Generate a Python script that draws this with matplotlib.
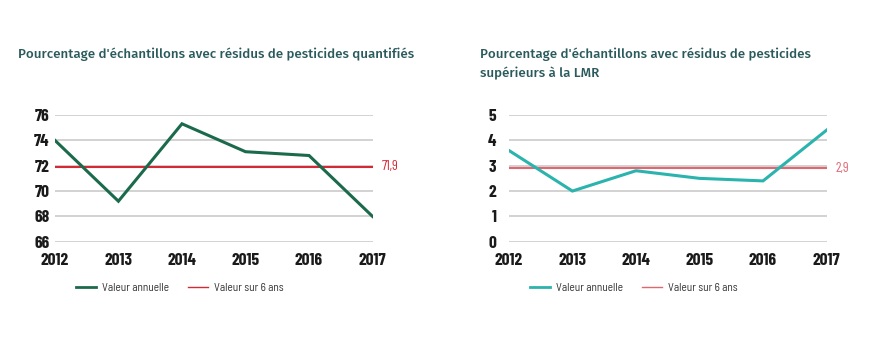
import matplotlib.pyplot as plt
from matplotlib.font_manager import fontManager

# Data
years = [2012, 2013, 2014, 2015, 2016, 2017]
quantified = [74.0, 69.2, 75.3, 73.1, 72.8, 68.0]
quantified_mean = 71.9
above_lmr = [3.6, 2.0, 2.8, 2.5, 2.4, 4.4]
above_lmr_mean = 2.9

titles = ["Pourcentage d'échantillons avec résidus de pesticides quantifiés",
          "Pourcentage d'échantillons avec résidus de pesticides\nsupérieurs à la LMR"]
legend_labels = ["Valeur annuelle", "Valeur sur 6 ans"]

names = {f.name for f in fontManager.ttflist}


def pick(*cands):
    for c in cands:
        if c in names:
            return c
    return 'DejaVu Sans'


tick_font = pick('Barlow Condensed', 'Oswald', 'DejaVu Sans')
legend_font = pick('Barlow Semi Condensed', 'Barlow Condensed', 'DejaVu Sans')
title_font = pick('Fira Sans', 'Lato', 'Open Sans')

title_color = '#2b5a5c'
grid_color = '#cfcfcf'

fig = plt.figure(figsize=(8.85, 3.43), dpi=100)


def draw_panel(left, values, mean, ylim, yticks, line_color, mean_color, mean_label,
               title, title_x, ypad):
    ax = fig.add_axes([left, 0.295, 0.359, 0.370])
    for t in yticks:
        ax.axhline(t, color=grid_color, lw=1.3, zorder=1)
    ax.axhline(mean, color=mean_color, lw=1.5, zorder=2)
    ax.plot(years, values, color=line_color, lw=2.2, zorder=3, solid_joinstyle='miter')
    ax.set_xlim(years[0], years[-1])
    ax.set_ylim(*ylim)
    ax.set_xticks(years)
    ax.set_yticks(yticks)
    for s in ax.spines.values():
        s.set_visible(False)
    ax.tick_params(length=0)
    ax.tick_params(axis='x', pad=8)
    ax.tick_params(axis='y', pad=ypad)
    for lab in ax.get_xticklabels() + ax.get_yticklabels():
        lab.set_fontfamily(tick_font)
        lab.set_fontweight('bold')
        lab.set_fontsize(12.5)
        lab.set_color('#1a1a1a')
    ax.text(1.028, mean, mean_label, transform=ax.get_yaxis_transform(),
            color=mean_color, fontsize=10, fontfamily=tick_font, va='center', ha='left')
    fig.text(title_x, 0.862, title, fontsize=9.6, color=title_color,
             fontfamily=title_font, fontweight='medium', va='top', ha='left',
             linespacing=1.55)

    # legend drawn below the axes
    ax.plot([], [], color=line_color, lw=2.0, label=legend_labels[0])
    ax.plot([], [], color=mean_color, lw=1.0, label=legend_labels[1])
    handles, labels = ax.get_legend_handles_labels()
    leg = ax.legend(handles[-2:], labels[-2:], loc='upper left', bbox_to_anchor=(0.035, -0.245),
                    ncol=2, frameon=False, handlelength=1.75, handletextpad=0.55,
                    columnspacing=1.6, prop={'family': legend_font, 'size': 8.2})
    for txt in leg.get_texts():
        txt.set_color('#333333')
    return ax


draw_panel(0.062, quantified, quantified_mean, (66, 76), [66, 68, 70, 72, 74, 76],
           '#1b6a4c', '#d42a36', '71,9', titles[0], 0.020, 4)
draw_panel(0.575, above_lmr, above_lmr_mean, (0, 5), [0, 1, 2, 3, 4, 5],
           '#2bb3ad', '#e06672', '2,9', titles[1], 0.542, 9)

fig.savefig('out.png', dpi=100, facecolor='white')
